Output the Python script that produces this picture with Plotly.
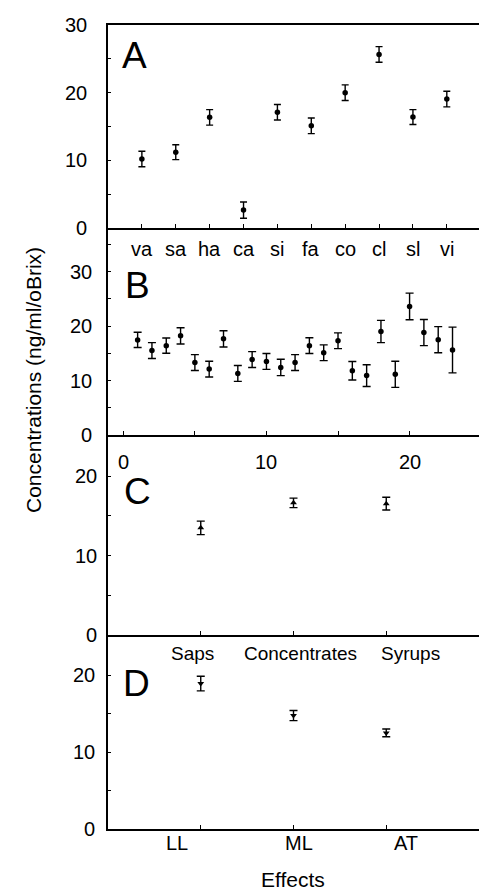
import plotly.graph_objects as go

# ---------------- data ----------------
a_cats = ["va", "sa", "ha", "ca", "si", "fa", "co", "cl", "sl", "vi"]
a_vals = [10.2, 11.2, 16.35, 2.65, 17.1, 15.1, 20.0, 25.65, 16.4, 19.05]
a_err = [1.15, 1.1, 1.15, 1.2, 1.15, 1.15, 1.15, 1.15, 1.1, 1.15]

b_x = list(range(1, 24))
b_vals = [17.45, 15.5, 16.4, 18.2, 13.3, 12.1, 17.65, 11.3, 13.85, 13.5, 12.4, 13.3,
          16.4, 15.1, 17.3, 11.8, 10.9, 19.0, 11.15, 23.6, 18.8, 17.5, 15.6]
b_err = [1.4, 1.45, 1.4, 1.5, 1.45, 1.45, 1.5, 1.45, 1.45, 1.45, 1.5, 1.45,
         1.45, 1.45, 1.45, 1.7, 2.0, 2.05, 2.4, 2.45, 2.4, 2.4, 4.2]
b_ticks = [0, 10, 20]

c_cats = ["Saps", "Concentrates", "Syrups"]
c_vals = [13.5, 16.65, 16.55]
c_err = [0.85, 0.6, 0.8]

d_cats = ["LL", "ML", "AT"]
d_vals = [18.9, 14.75, 12.5]
d_err = [0.95, 0.65, 0.5]

ab_yticks = [0, 10, 20, 30]
cd_yticks = [0, 10, 20]

panel_letters = ["A", "B", "C", "D"]
y_title = "Concentrations (ng/ml/oBrix)"
x_title = "Effects"

# ---------------- layout helpers ----------------
W, H = 479, 892
L = 108
PW = W - L
FONT = "Liberation Sans, Arial, sans-serif"


def fy(py):
    return 1 - py / H


def fx(px):
    return (px - L) / PW


fig = go.Figure()


def err(arr, w):
    return dict(type="data", array=arr, visible=True, color="black", thickness=1.4, width=w)


fig.add_trace(go.Scatter(x=a_cats, y=a_vals, mode="markers", xaxis="x", yaxis="y",
                         marker=dict(symbol="circle", size=5.5, color="black"),
                         error_y=err(a_err, 3.5)))
fig.add_trace(go.Scatter(x=b_x, y=b_vals, mode="markers", xaxis="x2", yaxis="y2",
                         marker=dict(symbol="circle", size=5.5, color="black"),
                         error_y=err(b_err, 4)))
fig.add_trace(go.Scatter(x=c_cats, y=c_vals, mode="markers", xaxis="x3", yaxis="y3",
                         marker=dict(symbol="triangle-up", size=6, color="black"),
                         error_y=err(c_err, 4)))
fig.add_trace(go.Scatter(x=d_cats, y=d_vals, mode="markers", xaxis="x4", yaxis="y4",
                         marker=dict(symbol="triangle-down", size=6, color="black"),
                         error_y=err(d_err, 4)))

common_x = dict(showline=True, linecolor="black", linewidth=2, showgrid=False, zeroline=False,
                ticks="inside", ticklen=4, tickcolor="black", tickwidth=1,
                showticklabels=False)


def y_axis(domain, anchor, rng, tickvals):
    return dict(showline=True, linecolor="black", linewidth=1.5, showgrid=False, zeroline=False,
                ticks="inside", ticklen=3, tickcolor="black", tickwidth=1,
                showticklabels=False,
                minor=dict(ticks="inside", ticklen=3, dtick=5, tick0=0, tickcolor="black",
                           showgrid=False),
                domain=domain, anchor=anchor, range=rng, tickvals=tickvals)


dom_a = [fy(228), fy(25)]
dom_b = [fy(435), fy(228)]
dom_c = [fy(635), fy(435)]
dom_d = [fy(829.3), fy(635)]

fig.update_layout(
    width=W, height=H,
    margin=dict(l=L, r=0, t=0, b=0),
    plot_bgcolor="white", paper_bgcolor="white",
    showlegend=False,
    font=dict(family=FONT, color="black"),
    xaxis=dict(common_x, domain=[0, 1], anchor="y", type="category",
               range=[-1, 9.95], mirror=True),
    yaxis=y_axis(dom_a, "x", [0, 30], ab_yticks),
    xaxis2=dict(common_x, domain=[0, 1], anchor="y2", range=[-1.07, 24.85],
                tick0=0, dtick=10,
                minor=dict(ticks="inside", ticklen=4, dtick=5, tickcolor="black", showgrid=False)),
    yaxis2=y_axis(dom_b, "x2", [0, 38], ab_yticks),
    xaxis3=dict(common_x, domain=[0, 1], anchor="y3", type="category", range=[-1, 3.0]),
    yaxis3=y_axis(dom_c, "x3", [0, 25.2], cd_yticks),
    xaxis4=dict(common_x, domain=[0, 1], anchor="y4", type="category", range=[-1, 3.0]),
    yaxis4=y_axis(dom_d, "x4", [0, 25.2], cd_yticks),
)

annotations = []


def label(text, xref, x, yref, y, size=20, xanchor="center", yanchor="middle", xshift=0,
          yshift=0, borderpad=1):
    annotations.append(dict(text=str(text), xref=xref, yref=yref, x=x, y=y, xshift=xshift,
                            yshift=yshift, borderpad=borderpad,
                            xanchor=xanchor, yanchor=yanchor, showarrow=False,
                            font=dict(family=FONT, size=size, color="black")))


# y tick labels (right-aligned to the left of the axis)
ytick_sets = [("y", ab_yticks, 89), ("y2", ab_yticks, 94), ("y3", cd_yticks, 99), ("y4", cd_yticks, 97)]
for yref, vals, right_px in ytick_sets:
    for v in vals:
        label(v, "paper", fx(right_px), yref, v, xanchor="right")

# x tick labels
for cat in a_cats:
    label(cat, "x", cat, "paper", fy(249))
for v in b_ticks:
    label(v, "x2", v, "paper", fy(462))

c_shift = [-8, 7, 24]
for cat, sh in zip(c_cats, c_shift):
    label(cat, "x3", cat, "paper", fy(653), size=19, xshift=sh)
d_shift = [-24, 5, 20]
for cat, sh in zip(d_cats, d_shift):
    label(cat, "x4", cat, "paper", fy(843), xshift=sh)

# panel letters
letter_pos = [(134, 55), (137, 286), (137, 491), (136, 683)]
for letter, (px, py) in zip(panel_letters, letter_pos):
    label(letter, "paper", fx(px), "paper", fy(py), size=37)

label(x_title, "paper", fx(293), "paper", 0.0, size=21, yanchor="bottom", borderpad=0)
annotations.append(dict(text=y_title, xref="paper", yref="paper", x=fx(33), y=fy(380),
                        xanchor="center", yanchor="middle", showarrow=False, textangle=-90,
                        font=dict(family=FONT, size=21, color="black")))
fig.update_layout(annotations=annotations)

fig.write_html("out.html")
